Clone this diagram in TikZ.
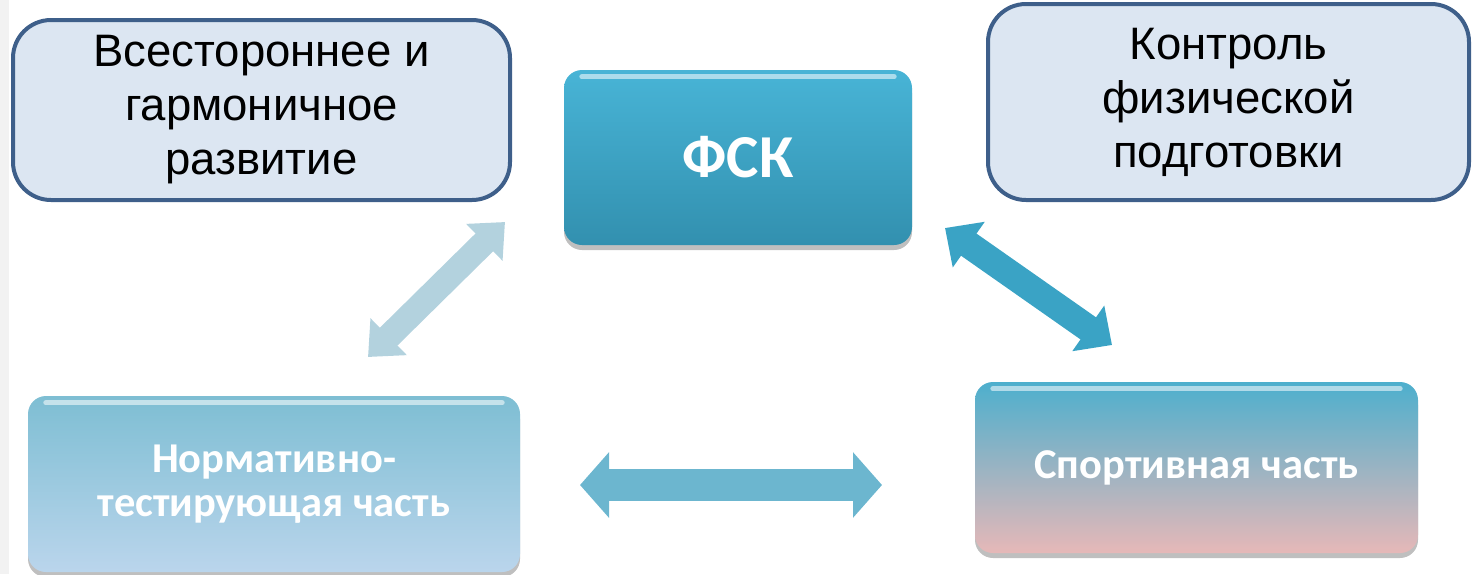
\documentclass[tikz,border=0pt]{standalone}
\usepackage{fontspec}
\setmainfont{Liberation Sans}
\newfontfamily\calib{Carlito}
\usetikzlibrary{arrows.meta,shadows}

\definecolor{boxfill}{HTML}{DCE6F2}
\definecolor{boxline}{HTML}{3E5F8A}
\definecolor{fsktop}{HTML}{48B4D6}
\definecolor{fskbot}{HTML}{3290AF}
\definecolor{normtop}{HTML}{7EBED3}
\definecolor{normbot}{HTML}{BAD5EC}
\definecolor{sporttop}{HTML}{4DAFCD}
\definecolor{sportmid}{HTML}{A6B6C4}
\definecolor{sportbot}{HTML}{E6B8B8}
\definecolor{arrowA}{HTML}{B3D2DE}
\definecolor{arrowB}{HTML}{3AA3C5}
\definecolor{arrowC}{HTML}{6CB6CF}

\tikzset{
  topbox/.style={draw=boxline,line width=4pt,fill=boxfill,rounded corners=38pt,
    inner sep=0pt,align=center,font=\fontsize{45.5}{54}\selectfont},
  gloss/.style={rounded corners=18pt,inner sep=0pt,align=center,text=white,
    drop shadow={shadow xshift=0pt,shadow yshift=-5pt,opacity=0.25,fill=black}},
  fatarrow/.style={line width=#1,
    {Triangle[length=29pt,width=2*#1]}-{Triangle[length=29pt,width=2*#1]}},
}

\begin{document}
\begin{tikzpicture}[x=1pt,y=-1pt]
 \useasboundingbox (0,0) rectangle (1472,574);
 \fill[gray!10] (0,0) rectangle (9,574);

 % upper boxes
 \node[topbox,minimum width=497pt,minimum height=180pt] (dev) at (261.5,110)
   {Всестороннее и\\гармоничное\\развитие};
 \node[topbox,minimum width=481pt,minimum height=196pt] (ctrl) at (1228.5,102)
   {Контроль\\физической\\подготовки};

 % centre and lower boxes
 \node[gloss,top color=fsktop,bottom color=fskbot,minimum width=348pt,minimum height=175pt,
   font=\calib\bfseries\fontsize{61}{63}\selectfont] (fsk) at (738,157.5) {ФСК};
 \node[gloss,top color=normtop,bottom color=normbot,minimum width=492pt,minimum height=176pt,
   font=\calib\bfseries\fontsize{42.5}{44}\selectfont] (norm) at (274,484)
   {Нормативно-\\тестирующая часть};
 \node[gloss,top color=sporttop,middle color=sportmid,bottom color=sportbot,
   minimum width=443pt,minimum height=171pt,
   font=\calib\bfseries\fontsize{42.5}{44}\selectfont] (sport) at (1196.5,467.5)
   {Спортивная часть};

 % gloss on the upper edges
 \foreach \n in {fsk,norm,sport}
   \draw[white,opacity=0.55,line width=5pt,line cap=round]
     ([xshift=18pt,yshift=-7pt]\n.north west) -- ([xshift=-18pt,yshift=-7pt]\n.north east);

 % arrow ends
 \coordinate (a1) at (505,222);
 \coordinate (a2) at (368,357);
 \coordinate (b1) at (945,228);
 \coordinate (b2) at (1112,345);
 \coordinate (c1) at (580,485);
 \coordinate (c2) at (882,485);

 \draw[fatarrow=25pt,arrowA] (a1) -- (a2);
 \draw[fatarrow=27pt,arrowB] (b1) -- (b2);
 \draw[fatarrow=32pt,arrowC] (c1) -- (c2);
\end{tikzpicture}
\end{document}
